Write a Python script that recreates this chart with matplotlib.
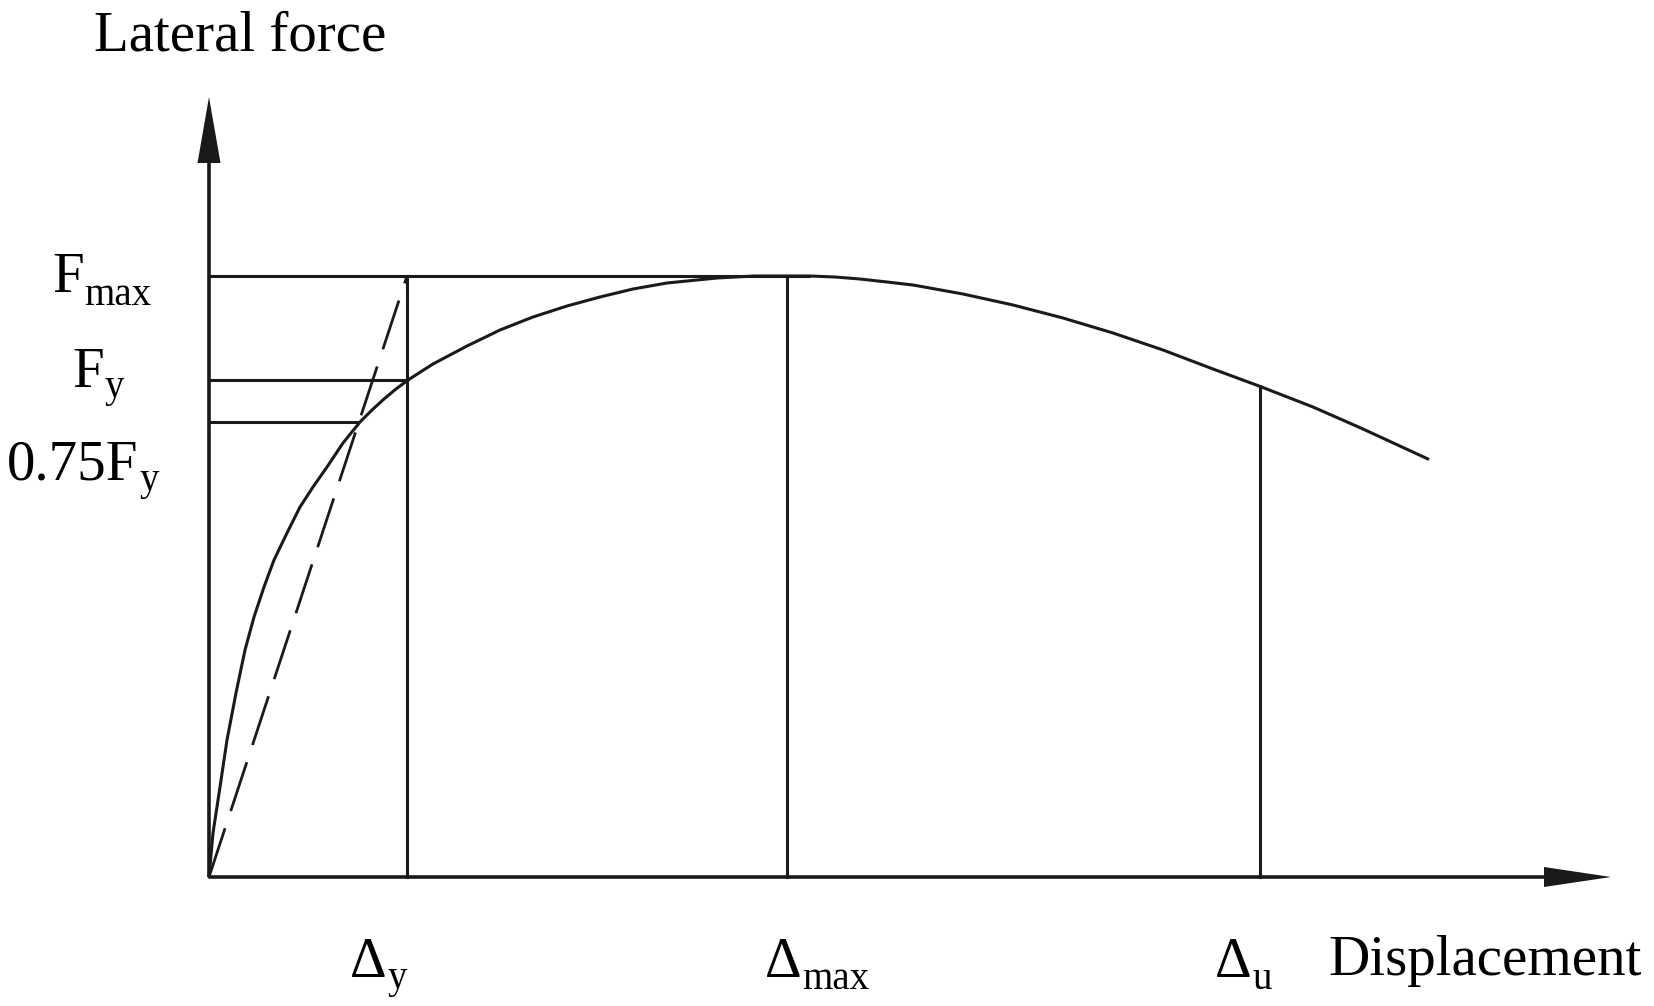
import matplotlib
matplotlib.use("Agg")
import matplotlib.pyplot as plt

plt.rcParams['font.family'] = ['Liberation Serif', 'DejaVu Serif']
plt.rcParams['lines.scale_dashes'] = False

# ---- data (schematic units) ----
curve_d = [0, 4, 11, 18, 27, 36, 45, 55, 65, 78, 91, 104, 118, 134, 151, 163,
           175, 187, 199, 224, 258, 291, 324, 358, 391, 424, 458, 508, 545,
           578, 601, 626, 651, 678, 704, 754, 804, 854, 904, 954, 1004, 1050,
           1104, 1154, 1219]
curve_F = [0, 44, 90, 137, 184, 227, 260, 290, 317, 344, 370, 390, 410, 434,
           455, 467, 478, 488, 497, 513, 531, 547, 560, 571, 580, 588, 594,
           599, 601, 601, 601, 600, 598, 595, 592, 583, 572, 559, 544, 527,
           508, 491, 470, 448, 418]

F_max = 601
F_y = 497
F_075y = 455
D_y = 198
D_max = 578
D_u = 1051
F_at_Du = 491
D_at_075 = 149
fmax_line_end = 600

x_axis_end = 1402
y_axis_end = 780

force_labels = [('F', 'max'), ('F', 'y'), ('0.75F', 'y')]
disp_labels = [('\u0394', 'y'), ('\u0394', 'max'), ('\u0394', 'u')]

# ---- figure ----
fig = plt.figure(figsize=(16.54, 10.06), dpi=100)
ax = fig.add_axes([0, 0, 1, 1])
ax.set_xlim(-209, 1445)
ax.set_ylim(-129, 877)
ax.axis('off')

col = '#1a1a1a'
lw = 2.2

# axes with arrows
ax.plot([0, x_axis_end - 40], [0, 0], color=col, lw=2.6, solid_capstyle='butt')
ax.plot([0, 0], [0, y_axis_end - 40], color=col, lw=2.6, solid_capstyle='butt')
ax.fill([x_axis_end - 67, x_axis_end, x_axis_end - 67],
        [10, 0, -10], color=col, lw=0)
ax.fill([-11.5, 0, 11.5], [y_axis_end - 66, y_axis_end, y_axis_end - 66],
        color=col, lw=0)

# horizontal reference lines
ax.plot([0, fmax_line_end], [F_max, F_max], color=col, lw=lw)
ax.plot([0, D_y], [F_y, F_y], color=col, lw=lw)
ax.plot([0, D_at_075], [F_075y, F_075y], color=col, lw=lw)

# vertical reference lines
ax.plot([D_y, D_y], [0, F_max], color=col, lw=lw)
ax.plot([D_max, D_max], [0, F_max], color=col, lw=lw)
ax.plot([D_u, D_u], [0, F_at_Du], color=col, lw=lw)

# main curve
ax.plot(curve_d, curve_F, color=col, lw=lw, solid_joinstyle='round',
        solid_capstyle='round')

# dashed secant line
ax.plot([0, D_y], [0, F_max], color=col, lw=2.0, dashes=(37, 13))

# texts
fs = 41
sub_fs = 28


def label(x, y, main, sub, dy=-0.5):
    t = ax.text(x, y, main, fontsize=fs, ha='left', va='baseline', color='black')
    ax.annotate(sub, xy=(1, 0), xycoords=t, xytext=(0.5, dy),
                textcoords='offset points', fontsize=sub_fs, ha='left',
                va='baseline', color='black')


ax.text(-115, 827, 'Lateral force', fontsize=fs, ha='left', va='baseline')
ax.text(1119, -98, 'Displacement', fontsize=fs, ha='left', va='baseline')

label(-157, F_max - 16, *force_labels[0])
label(-137, F_y - 7, *force_labels[1], dy=1.5)
label(-202, F_075y - 58, *force_labels[2], dy=1.5)

label(D_y - 57, -100, *disp_labels[0], dy=1.0)
label(D_max - 22, -100, *disp_labels[1], dy=0.0)
label(D_u - 45, -100, *disp_labels[2], dy=0.0)

fig.savefig('out.png', dpi=100, facecolor='white')
